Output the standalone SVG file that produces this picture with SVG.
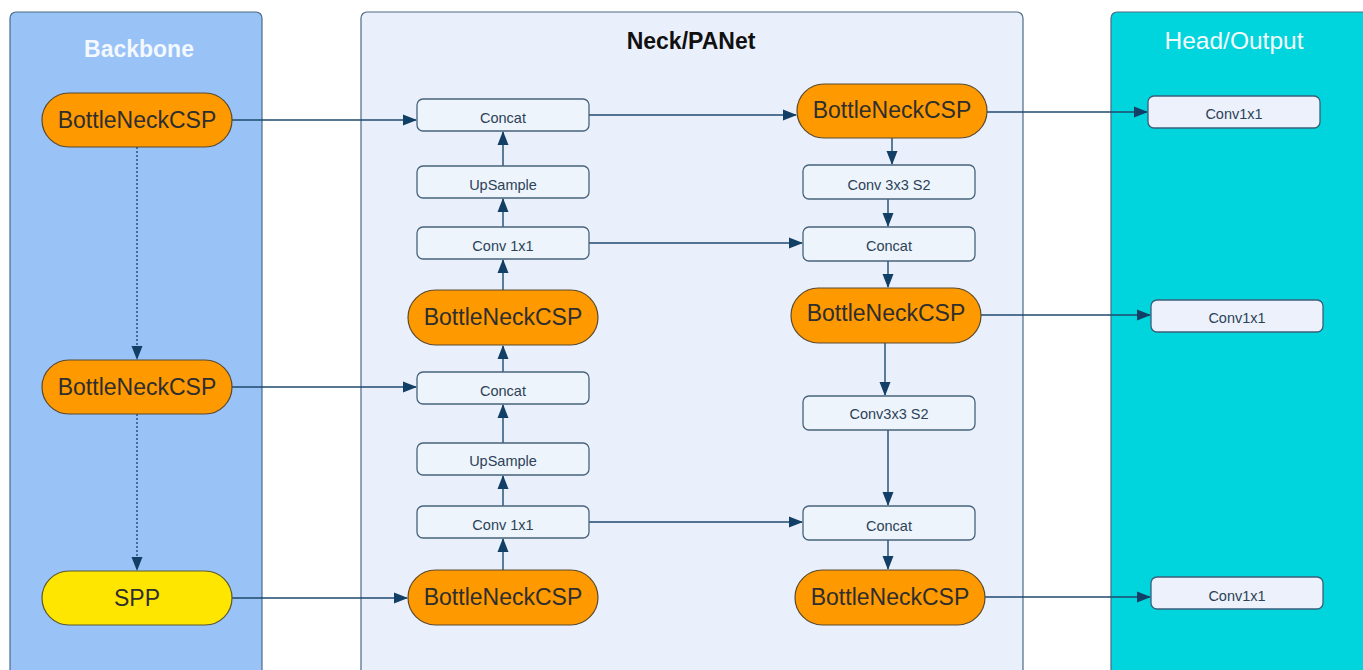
<svg xmlns="http://www.w3.org/2000/svg" width="1363" height="670" viewBox="0 0 1363 670">
<defs>
<marker id="ah" markerWidth="14" markerHeight="12" refX="13" refY="6" orient="auto" markerUnits="userSpaceOnUse">
<path d="M0,0.5 L14,6 L0,11.5 Z" fill="#123f66"/>
</marker>
<style>
.panel{stroke:#4d6a84;stroke-width:1.2}
.pill{fill:#ff9900;stroke:#5a4a30;stroke-width:1.2}
.spp{fill:#ffe600;stroke:#5a5a30;stroke-width:1.2}
.box{fill:#eef4fc;stroke:#47637b;stroke-width:1.3}
.hbox{fill:#edf1fb;stroke:#3a5f7a;stroke-width:1.3}
.pt{font-family:"Liberation Sans",Arial,sans-serif;font-size:23px;fill:#2e2e2e;text-anchor:middle;dominant-baseline:central}
.bt{font-family:"Liberation Sans",Arial,sans-serif;font-size:14.5px;fill:#2b4257;text-anchor:middle;dominant-baseline:central}
.title{font-family:"Liberation Sans",Arial,sans-serif;font-size:23px;font-weight:bold;text-anchor:middle}
.c{fill:none;stroke:#1e4a6e;stroke-width:1.4}
.d{fill:none;stroke:#1e4a6e;stroke-width:1.4;stroke-dasharray:2,2}
</style>
</defs>
<rect width="1363" height="670" fill="#ffffff"/>
<g id="panels">
<rect class="panel" x="10" y="12" width="252" height="670" rx="6" fill="#99c2f7"/>
<rect class="panel" x="361" y="12" width="662" height="670" rx="6" fill="#eaf0fb"/>
<rect class="panel" x="1111" y="12" width="260" height="670" rx="6" fill="#00d4dc"/>
<text class="title" x="139" y="57" fill="#f4f8ff">Backbone</text>
<text class="title" x="691" y="49" fill="#111111">Neck/PANet</text>
<text class="title" x="1234" y="49" fill="#f4fbfc" style="font-weight:normal;font-size:24.5px">Head/Output</text>
</g>
<g id="connectors">
<path class="d" d="M137,147 V359" marker-end="url(#ah)"/>
<path class="d" d="M137,414 V570" marker-end="url(#ah)"/>
<path class="c" d="M232,120 H416" marker-end="url(#ah)"/>
<path class="c" d="M232,387 H416" marker-end="url(#ah)"/>
<path class="c" d="M232,598 H407" marker-end="url(#ah)"/>
<path class="c" d="M503,166 V132" marker-end="url(#ah)"/>
<path class="c" d="M503,227 V199" marker-end="url(#ah)"/>
<path class="c" d="M503,290 V260" marker-end="url(#ah)"/>
<path class="c" d="M503,372 V346" marker-end="url(#ah)"/>
<path class="c" d="M503,443 V405" marker-end="url(#ah)"/>
<path class="c" d="M503,506 V476" marker-end="url(#ah)"/>
<path class="c" d="M503,570 V539" marker-end="url(#ah)"/>
<path class="c" d="M589,115 H796" marker-end="url(#ah)"/>
<path class="c" d="M589,243 H802" marker-end="url(#ah)"/>
<path class="c" d="M589,522 H802" marker-end="url(#ah)"/>
<path class="c" d="M892,138 V164" marker-end="url(#ah)"/>
<path class="c" d="M888,199 V226" marker-end="url(#ah)"/>
<path class="c" d="M888,261 V287" marker-end="url(#ah)"/>
<path class="c" d="M885,343 V395" marker-end="url(#ah)"/>
<path class="c" d="M888,430 V505" marker-end="url(#ah)"/>
<path class="c" d="M888,540 V569" marker-end="url(#ah)"/>
<path class="c" d="M987,112 H1147" marker-end="url(#ah)"/>
<path class="c" d="M981,315 H1150" marker-end="url(#ah)"/>
<path class="c" d="M985,597 H1150" marker-end="url(#ah)"/>
</g>
<g id="bb-csp1"><rect class="pill" x="42" y="93" width="190" height="54" rx="27"/><text class="pt" x="137" y="120">BottleNeckCSP</text></g>
<g id="bb-csp2"><rect class="pill" x="42" y="360" width="190" height="54" rx="27"/><text class="pt" x="137" y="387">BottleNeckCSP</text></g>
<g id="bb-spp"><rect class="spp" x="42" y="571" width="190" height="54" rx="27"/><text class="pt" x="137" y="598">SPP</text></g>
<g id="n-concat1"><rect class="box" x="417" y="99" width="172" height="32" rx="6"/><text class="bt" x="503" y="118">Concat</text></g>
<g id="n-up1"><rect class="box" x="417" y="166" width="172" height="32" rx="6"/><text class="bt" x="503" y="185">UpSample</text></g>
<g id="n-conv1"><rect class="box" x="417" y="227" width="172" height="32" rx="6"/><text class="bt" x="503" y="246">Conv 1x1</text></g>
<g id="n-csp1"><rect class="pill" x="408" y="290" width="190" height="55" rx="27.5"/><text class="pt" x="503" y="317">BottleNeckCSP</text></g>
<g id="n-concat2"><rect class="box" x="417" y="372" width="172" height="32" rx="6"/><text class="bt" x="503" y="391">Concat</text></g>
<g id="n-up2"><rect class="box" x="417" y="443" width="172" height="32" rx="6"/><text class="bt" x="503" y="461">UpSample</text></g>
<g id="n-conv2"><rect class="box" x="417" y="506" width="172" height="32" rx="6"/><text class="bt" x="503" y="525">Conv 1x1</text></g>
<g id="n-csp2"><rect class="pill" x="408" y="570" width="190" height="55" rx="27.5"/><text class="pt" x="503" y="597">BottleNeckCSP</text></g>
<g id="r-csp1"><rect class="pill" x="797" y="84" width="190" height="54" rx="27"/><text class="pt" x="892" y="110">BottleNeckCSP</text></g>
<g id="r-conv1"><rect class="box" x="803" y="165" width="172" height="34" rx="6"/><text class="bt" x="889" y="185">Conv 3x3 S2</text></g>
<g id="r-concat1"><rect class="box" x="803" y="227" width="172" height="34" rx="6"/><text class="bt" x="889" y="246">Concat</text></g>
<g id="r-csp2"><rect class="pill" x="791" y="288" width="190" height="55" rx="27.5"/><text class="pt" x="886" y="313">BottleNeckCSP</text></g>
<g id="r-conv2"><rect class="box" x="803" y="396" width="172" height="34" rx="6"/><text class="bt" x="889" y="414">Conv3x3 S2</text></g>
<g id="r-concat2"><rect class="box" x="803" y="506" width="172" height="34" rx="6"/><text class="bt" x="889" y="526">Concat</text></g>
<g id="r-csp3"><rect class="pill" x="795" y="570" width="190" height="55" rx="27.5"/><text class="pt" x="890" y="597">BottleNeckCSP</text></g>
<g id="h-conv1"><rect class="hbox" x="1148" y="96" width="172" height="32" rx="6"/><text class="bt" x="1234" y="114">Conv1x1</text></g>
<g id="h-conv2"><rect class="hbox" x="1151" y="300" width="172" height="32" rx="6"/><text class="bt" x="1237" y="318">Conv1x1</text></g>
<g id="h-conv3"><rect class="hbox" x="1151" y="577" width="172" height="32" rx="6"/><text class="bt" x="1237" y="596">Conv1x1</text></g>
</svg>
